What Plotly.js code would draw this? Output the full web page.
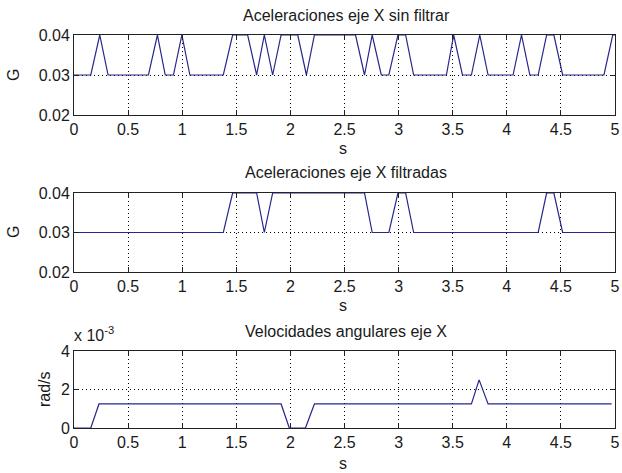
<!DOCTYPE html>
<html>
<head>
<meta charset="utf-8">
<script src="https://cdn.plot.ly/plotly-3.0.1.min.js"></script>
<style>html,body{margin:0;padding:0;background:#fff;}#chart{width:622px;height:473px;}</style>
</head>
<body>
<div id="chart"></div>
<script>
// Aceleraciones eje X sin filtrar (vertices)
const timeRaw = [0, 0.155, 0.238, 0.315, 0.688, 0.771, 0.843, 0.919, 0.997, 1.071, 1.380, 1.466, 1.605, 1.688, 1.759, 1.836, 1.914, 2.068, 2.148, 2.222, 2.602, 2.685, 2.756, 2.840, 2.910, 2.994, 3.065, 3.139, 3.442, 3.509, 3.590, 3.673, 3.750, 3.827, 4.058, 4.136, 4.213, 4.290, 4.368, 4.435, 4.516, 4.898, 4.979, 5];
const accelRaw = [0.03, 0.03, 0.04, 0.03, 0.03, 0.04, 0.03, 0.03, 0.04, 0.03, 0.03, 0.04, 0.04, 0.03, 0.04, 0.03, 0.04, 0.04, 0.03, 0.04, 0.04, 0.03, 0.04, 0.03, 0.03, 0.04, 0.04, 0.03, 0.03, 0.04, 0.03, 0.03, 0.04, 0.03, 0.03, 0.04, 0.03, 0.03, 0.04, 0.04, 0.03, 0.03, 0.04, 0.04];

// Aceleraciones eje X filtradas
const timeFilt = [0, 1.380, 1.466, 1.688, 1.759, 1.836, 2.685, 2.756, 2.910, 2.994, 3.065, 3.139, 4.290, 4.368, 4.435, 4.516, 5];
const accelFilt = [0.03, 0.03, 0.04, 0.04, 0.03, 0.04, 0.04, 0.03, 0.03, 0.04, 0.04, 0.03, 0.03, 0.04, 0.04, 0.03, 0.03];

// Velocidades angulares eje X (rad/s)
const timeGyro = [0, 0.155, 0.231, 1.914, 1.990, 2.139, 2.222, 3.673, 3.744, 3.827, 4.969];
const gyroX = [0, 0, 0.00125, 0.00125, 0, 0, 0.00125, 0.00125, 0.0025, 0.00125, 0.00125];

// tick labels
const accelTicks = [0.02, 0.03, 0.04];
const gyroTickVals = [0, 0.002, 0.004];
const gyroTickText = ['0', '2', '4'];

const titles = ['Aceleraciones eje X sin filtrar', 'Aceleraciones eje X filtradas', 'Velocidades angulares eje X'];
const yTitles = ['G', 'G', 'rad/s'];
const xTitle = 's';

const W = 622, H = 473;
const px = v => v / W;
const py = v => 1 - v / H;

const lineColor = '#26268c';
const fontFam = 'Liberation Sans, Arial, Helvetica, sans-serif';
const txtColor = '#1a1a1a';
const FS = 16;

const traces = [
  {x: timeRaw, y: accelRaw, xaxis: 'x', yaxis: 'y', mode: 'lines', line: {color: lineColor, width: 1.2}, hoverinfo: 'skip'},
  {x: timeFilt, y: accelFilt, xaxis: 'x2', yaxis: 'y2', mode: 'lines', line: {color: lineColor, width: 1.2}, hoverinfo: 'skip'},
  {x: timeGyro, y: gyroX, xaxis: 'x3', yaxis: 'y3', mode: 'lines', line: {color: lineColor, width: 1.2}, hoverinfo: 'skip'}
];

function xAx(anchor) {
  return {
    domain: [px(74), px(615)], anchor: anchor, range: [0, 5], tick0: 0, dtick: 0.5,
    showline: true, linecolor: '#222', linewidth: 1, mirror: 'ticks',
    ticks: 'inside', ticklen: 5, tickcolor: '#222',
    showgrid: true, gridcolor: '#000', griddash: '1px,3px', gridwidth: 1,
    zeroline: false, fixedrange: true,
    tickfont: {family: fontFam, size: FS, color: txtColor}
  };
}
function yAx(anchor, top, bottom, extra) {
  return Object.assign({
    domain: [py(bottom), py(top)], anchor: anchor,
    showline: true, linecolor: '#222', linewidth: 1, mirror: 'ticks',
    ticks: 'inside', ticklen: 5, tickcolor: '#222',
    showgrid: true, gridcolor: '#000', griddash: '1px,3px', gridwidth: 1,
    zeroline: false, fixedrange: true,
    tickfont: {family: fontFam, size: FS, color: txtColor}
  }, extra);
}

const ann = [];
const titleY = [15, 173, 331];
const sY = [148, 305, 463];
const yTitleX = [13, 13, 44];
const yTitleY = [75, 232, 389];
for (let i = 0; i < 3; i++) {
  ann.push({text: titles[i], x: px(346), y: py(titleY[i]), xref: 'paper', yref: 'paper', showarrow: false, xanchor: 'center', yanchor: 'middle', font: {family: fontFam, size: FS, color: txtColor}});
  ann.push({text: xTitle, x: px(343), y: py(sY[i]), xref: 'paper', yref: 'paper', showarrow: false, xanchor: 'center', yanchor: 'middle', font: {family: fontFam, size: FS, color: txtColor}});
  ann.push({text: yTitles[i], x: px(yTitleX[i]), y: py(yTitleY[i]), xref: 'paper', yref: 'paper', showarrow: false, xanchor: 'center', yanchor: 'middle', textangle: -90, font: {family: fontFam, size: FS, color: txtColor}});
}
ann.push({text: 'x 10<sup>-3</sup>', x: px(72), y: py(334), xref: 'paper', yref: 'paper', showarrow: false, xanchor: 'left', yanchor: 'middle', font: {family: fontFam, size: FS, color: txtColor}});

const layout = {
  width: W, height: H,
  margin: {l: 0, r: 0, t: 0, b: 0, pad: 0},
  paper_bgcolor: '#fff', plot_bgcolor: '#fff',
  showlegend: false,
  xaxis: xAx('y'),
  yaxis: yAx('x', 35, 115, {range: [0.02, 0.04], tickvals: accelTicks}),
  xaxis2: xAx('y2'),
  yaxis2: yAx('x2', 193, 272, {range: [0.02, 0.04], tickvals: accelTicks}),
  xaxis3: xAx('y3'),
  yaxis3: yAx('x3', 351, 428, {range: [0, 0.004], tickvals: gyroTickVals, ticktext: gyroTickText}),
  annotations: ann
};

Plotly.newPlot('chart', traces, layout, {staticPlot: true, displayModeBar: false});
</script>
</body>
</html>
